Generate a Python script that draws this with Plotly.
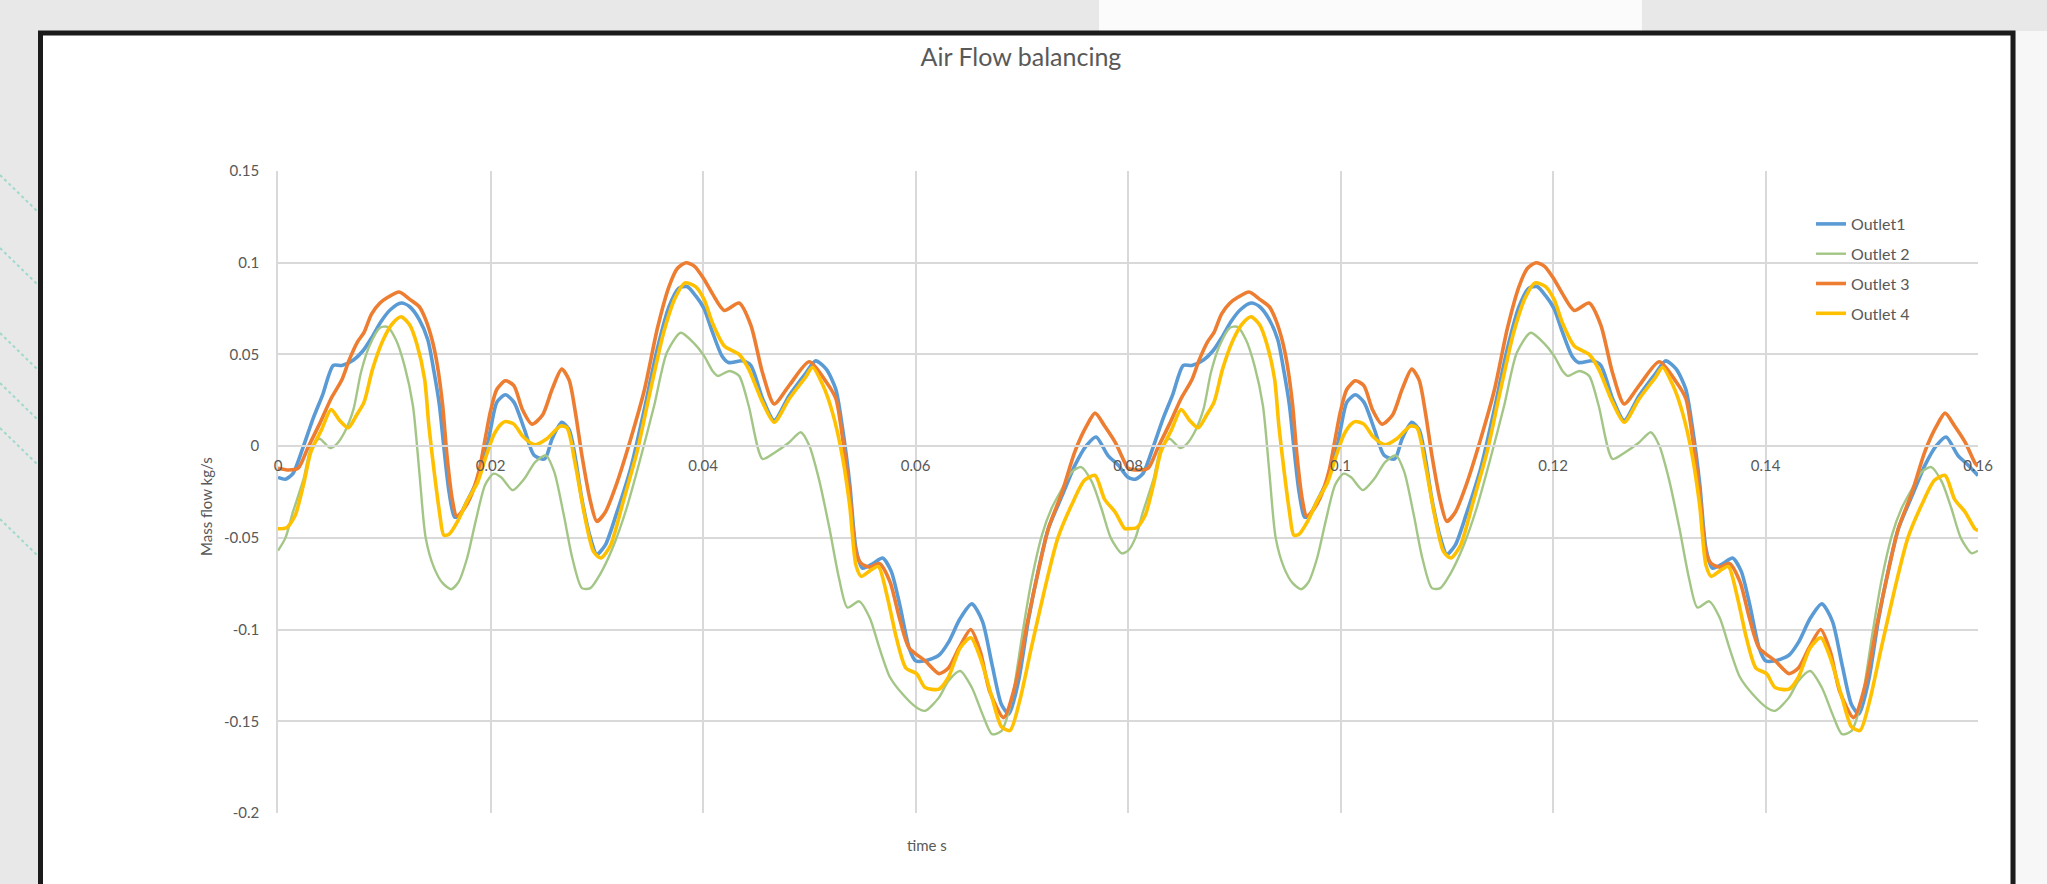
import plotly.graph_objects as go

# ---------------- data ----------------
outlet1_pts = [
    (0, -0.017), (0.0007, -0.018), (0.0014, -0.015), (0.0024, 0.0), (0.0033, 0.015), (0.0042, 0.028),
    (0.0052, 0.044), (0.006, 0.044), (0.0071, 0.047), (0.008, 0.052), (0.0088, 0.059), (0.0097, 0.068),
    (0.0106, 0.0745), (0.0116, 0.078), (0.0124, 0.076), (0.0133, 0.069), (0.0141, 0.058), (0.0147, 0.040),
    (0.0152, 0.022), (0.0156, 0.0), (0.0161, -0.025), (0.0166, -0.0385), (0.017, -0.0385), (0.0178, -0.030),
    (0.0188, -0.018), (0.0195, -0.005), (0.02, 0.009), (0.0206, 0.024), (0.0214, 0.028), (0.0222, 0.024),
    (0.0232, 0.009), (0.0241, -0.005), (0.0251, -0.007), (0.0258, 0.004), (0.0267, 0.013), (0.0274, 0.009),
    (0.028, -0.007), (0.0286, -0.029), (0.0294, -0.050), (0.03, -0.059), (0.0308, -0.054), (0.0319, -0.036),
    (0.0332, -0.012), (0.0344, 0.018), (0.0357, 0.053), (0.0368, 0.076), (0.0377, 0.086), (0.0385, 0.087),
    (0.0393, 0.082), (0.0401, 0.075), (0.0409, 0.062), (0.0418, 0.049), (0.0424, 0.0456), (0.0437, 0.0465),
    (0.0445, 0.044), (0.0456, 0.026), (0.0467, 0.014), (0.0481, 0.0275), (0.0497, 0.040), (0.0506, 0.0465),
    (0.0516, 0.042), (0.0525, 0.031), (0.0531, 0.011), (0.0538, -0.020), (0.0544, -0.056), (0.055, -0.0665),
    (0.056, -0.064), (0.0569, -0.061), (0.0577, -0.068), (0.0585, -0.086), (0.0594, -0.110), (0.06, -0.117),
    (0.0609, -0.117), (0.0622, -0.114), (0.0631, -0.107), (0.0642, -0.094), (0.0653, -0.086), (0.0663, -0.0955),
    (0.0672, -0.119), (0.0681, -0.141), (0.0688, -0.146), (0.0697, -0.128), (0.0706, -0.0955), (0.0716, -0.0665),
    (0.0725, -0.045), (0.0738, -0.027), (0.075, -0.0105), (0.0761, 0.0004), (0.077, 0.005), (0.0781, -0.005),
    (0.0791, -0.0105),
    (0.08, -0.017), (0.0807, -0.018), (0.0814, -0.015), (0.0824, 0.0), (0.0833, 0.015), (0.0842, 0.028),
    (0.0852, 0.044), (0.086, 0.044), (0.0871, 0.047), (0.088, 0.052), (0.0888, 0.059), (0.0897, 0.068),
    (0.0906, 0.0745), (0.0916, 0.078), (0.0924, 0.076), (0.0933, 0.069), (0.0941, 0.058), (0.0947, 0.040),
    (0.0952, 0.022), (0.0956, 0.0), (0.0961, -0.025), (0.0966, -0.0385), (0.097, -0.0385), (0.0978, -0.030),
    (0.0988, -0.018), (0.0995, -0.005), (0.1, 0.009), (0.1006, 0.024), (0.1014, 0.028), (0.1022, 0.024),
    (0.1032, 0.009), (0.1041, -0.005), (0.1051, -0.007), (0.1058, 0.004), (0.1067, 0.013), (0.1074, 0.009),
    (0.108, -0.007), (0.1086, -0.029), (0.1094, -0.050), (0.11, -0.059), (0.1108, -0.054), (0.1119, -0.036),
    (0.1132, -0.012), (0.1144, 0.018), (0.1157, 0.053), (0.1168, 0.076), (0.1177, 0.086), (0.1185, 0.087),
    (0.1193, 0.082), (0.1201, 0.075), (0.1209, 0.062), (0.1218, 0.049), (0.1224, 0.0456), (0.1237, 0.0465),
    (0.1245, 0.044), (0.1256, 0.026), (0.1267, 0.014), (0.1281, 0.0275), (0.1297, 0.040), (0.1306, 0.0465),
    (0.1316, 0.042), (0.1325, 0.031), (0.1331, 0.011), (0.1338, -0.020), (0.1344, -0.056), (0.135, -0.0665),
    (0.136, -0.064), (0.1369, -0.061), (0.1377, -0.068), (0.1385, -0.086), (0.1394, -0.110), (0.14, -0.117),
    (0.1409, -0.117), (0.1422, -0.114), (0.1431, -0.107), (0.1442, -0.094), (0.1453, -0.086), (0.1463, -0.0955),
    (0.1472, -0.119), (0.1481, -0.141), (0.1488, -0.146), (0.1497, -0.128), (0.1506, -0.0955), (0.1516, -0.0665),
    (0.1525, -0.045), (0.1538, -0.027), (0.155, -0.0105), (0.1561, 0.0004), (0.157, 0.005), (0.1581, -0.005),
    (0.1591, -0.0105), (0.16, -0.016),
]

outlet2_pts = [
    (0, -0.057), (0.0007, -0.050), (0.0014, -0.036), (0.0024, -0.018), (0.0031, -0.001), (0.0039, 0.004),
    (0.0049, -0.001), (0.0055, 0.001), (0.0063, 0.008), (0.0071, 0.020), (0.0078, 0.040), (0.0086, 0.0546),
    (0.0096, 0.0646), (0.0103, 0.065), (0.0111, 0.058), (0.0119, 0.044), (0.0127, 0.022), (0.0133, -0.014),
    (0.0139, -0.050), (0.0147, -0.0665), (0.0155, -0.0747), (0.0163, -0.078), (0.017, -0.074), (0.0178, -0.061),
    (0.0186, -0.041), (0.0195, -0.021), (0.0203, -0.015), (0.021, -0.017), (0.0221, -0.024), (0.0232, -0.0177),
    (0.0242, -0.0087), (0.0252, -0.005), (0.026, -0.014), (0.0269, -0.0376), (0.0277, -0.061), (0.0286, -0.0774),
    (0.0294, -0.0774), (0.0303, -0.070), (0.0316, -0.054), (0.0328, -0.034), (0.0341, -0.007), (0.0354, 0.022),
    (0.0366, 0.051), (0.0379, 0.0618), (0.0391, 0.0564), (0.0401, 0.0492), (0.0409, 0.041), (0.0414, 0.0383),
    (0.0425, 0.041), (0.0434, 0.0383), (0.0443, 0.022), (0.0456, -0.007), (0.0468, -0.0033), (0.0481, 0.002),
    (0.0492, 0.0076), (0.05, 0.0004), (0.0509, -0.0177), (0.0519, -0.0448), (0.0528, -0.072), (0.0536, -0.088),
    (0.0547, -0.0846), (0.0557, -0.0937), (0.0566, -0.110), (0.0576, -0.126), (0.0588, -0.1353), (0.0601, -0.1425),
    (0.0609, -0.1443), (0.0622, -0.1371), (0.0631, -0.128), (0.0642, -0.1226), (0.0653, -0.1316), (0.0663, -0.1461),
    (0.0672, -0.157), (0.0681, -0.1552), (0.0691, -0.1371), (0.07, -0.1045), (0.0709, -0.0738), (0.0719, -0.0485),
    (0.0728, -0.034), (0.0738, -0.0231), (0.0747, -0.0141), (0.0756, -0.0114), (0.0766, -0.0195), (0.0775, -0.034),
    (0.0784, -0.0503), (0.0794, -0.0584),
    (0.08, -0.057), (0.0807, -0.050), (0.0814, -0.036), (0.0824, -0.018), (0.0831, -0.001), (0.0839, 0.004),
    (0.0849, -0.001), (0.0855, 0.001), (0.0863, 0.008), (0.0871, 0.020), (0.0878, 0.040), (0.0886, 0.0546),
    (0.0896, 0.0646), (0.0903, 0.065), (0.0911, 0.058), (0.0919, 0.044), (0.0927, 0.022), (0.0933, -0.014),
    (0.0939, -0.050), (0.0947, -0.0665), (0.0955, -0.0747), (0.0963, -0.078), (0.097, -0.074), (0.0978, -0.061),
    (0.0986, -0.041), (0.0995, -0.021), (0.1003, -0.015), (0.101, -0.017), (0.1021, -0.024), (0.1032, -0.0177),
    (0.1042, -0.0087), (0.1052, -0.005), (0.106, -0.014), (0.1069, -0.0376), (0.1077, -0.061), (0.1086, -0.0774),
    (0.1094, -0.0774), (0.1103, -0.070), (0.1116, -0.054), (0.1128, -0.034), (0.1141, -0.007), (0.1154, 0.022),
    (0.1166, 0.051), (0.1179, 0.0618), (0.1191, 0.0564), (0.1201, 0.0492), (0.1209, 0.041), (0.1214, 0.0383),
    (0.1225, 0.041), (0.1234, 0.0383), (0.1243, 0.022), (0.1256, -0.007), (0.1268, -0.0033), (0.1281, 0.002),
    (0.1292, 0.0076), (0.13, 0.0004), (0.1309, -0.0177), (0.1319, -0.0448), (0.1328, -0.072), (0.1336, -0.088),
    (0.1347, -0.0846), (0.1357, -0.0937), (0.1366, -0.110), (0.1376, -0.126), (0.1388, -0.1353), (0.1401, -0.1425),
    (0.1409, -0.1443), (0.1422, -0.1371), (0.1431, -0.128), (0.1442, -0.1226), (0.1453, -0.1316), (0.1463, -0.1461),
    (0.1472, -0.157), (0.1481, -0.1552), (0.1491, -0.1371), (0.15, -0.1045), (0.1509, -0.0738), (0.1519, -0.0485),
    (0.1528, -0.034), (0.1538, -0.0231), (0.1547, -0.0141), (0.1556, -0.0114), (0.1566, -0.0195), (0.1575, -0.034),
    (0.1584, -0.0503), (0.1594, -0.0584), (0.16, -0.057),
]

outlet3_pts = [
    (0, -0.012), (0.001, -0.013), (0.0019, -0.012), (0.0028, -0.001), (0.0039, 0.012), (0.005, 0.026),
    (0.006, 0.036), (0.0067, 0.047), (0.0075, 0.057), (0.0081, 0.062), (0.0088, 0.072), (0.0096, 0.078),
    (0.0103, 0.081), (0.0114, 0.084), (0.0124, 0.080), (0.0133, 0.076), (0.0139, 0.069), (0.0145, 0.058),
    (0.015, 0.044), (0.0155, 0.022), (0.0159, -0.005), (0.0164, -0.029), (0.0168, -0.038), (0.0174, -0.035),
    (0.0181, -0.028), (0.0189, -0.014), (0.0195, 0.004), (0.02, 0.019), (0.0206, 0.031), (0.0214, 0.0356),
    (0.0222, 0.033), (0.023, 0.020), (0.0239, 0.012), (0.0249, 0.017), (0.0258, 0.031), (0.0267, 0.042),
    (0.0274, 0.036), (0.028, 0.018), (0.0286, -0.005), (0.0294, -0.030), (0.03, -0.041), (0.0308, -0.036),
    (0.0319, -0.020), (0.0332, 0.004), (0.0345, 0.031), (0.0357, 0.064), (0.0368, 0.087), (0.0376, 0.097),
    (0.0384, 0.100), (0.0392, 0.098), (0.0401, 0.091), (0.0409, 0.083), (0.042, 0.074), (0.0434, 0.078),
    (0.0445, 0.066), (0.0456, 0.040), (0.0467, 0.023), (0.0481, 0.033), (0.05, 0.046), (0.0516, 0.035),
    (0.0525, 0.026), (0.0531, 0.006), (0.0538, -0.025), (0.0544, -0.058), (0.0549, -0.064), (0.0557, -0.066),
    (0.0566, -0.064), (0.0576, -0.074), (0.0585, -0.094), (0.0594, -0.110), (0.0609, -0.117), (0.0622, -0.124),
    (0.0631, -0.121), (0.0641, -0.110), (0.0652, -0.100), (0.0661, -0.112), (0.067, -0.134), (0.0683, -0.148),
    (0.0694, -0.130), (0.0705, -0.097), (0.0716, -0.067), (0.0725, -0.045), (0.0738, -0.025), (0.075, -0.003),
    (0.0761, 0.011), (0.0769, 0.018), (0.0778, 0.011), (0.0788, 0.002), (0.0797, -0.009),
    (0.08, -0.012), (0.081, -0.013), (0.0819, -0.012), (0.0828, -0.001), (0.0839, 0.012), (0.085, 0.026),
    (0.086, 0.036), (0.0867, 0.047), (0.0875, 0.057), (0.0881, 0.062), (0.0888, 0.072), (0.0896, 0.078),
    (0.0903, 0.081), (0.0914, 0.084), (0.0924, 0.080), (0.0933, 0.076), (0.0939, 0.069), (0.0945, 0.058),
    (0.095, 0.044), (0.0955, 0.022), (0.0959, -0.005), (0.0964, -0.029), (0.0968, -0.038), (0.0974, -0.035),
    (0.0981, -0.028), (0.0989, -0.014), (0.0995, 0.004), (0.1, 0.019), (0.1006, 0.031), (0.1014, 0.0356),
    (0.1022, 0.033), (0.103, 0.020), (0.1039, 0.012), (0.1049, 0.017), (0.1058, 0.031), (0.1067, 0.042),
    (0.1074, 0.036), (0.108, 0.018), (0.1086, -0.005), (0.1094, -0.030), (0.11, -0.041), (0.1108, -0.036),
    (0.1119, -0.020), (0.1132, 0.004), (0.1145, 0.031), (0.1157, 0.064), (0.1168, 0.087), (0.1176, 0.097),
    (0.1184, 0.100), (0.1192, 0.098), (0.1201, 0.091), (0.1209, 0.083), (0.122, 0.074), (0.1234, 0.078),
    (0.1245, 0.066), (0.1256, 0.040), (0.1267, 0.023), (0.1281, 0.033), (0.13, 0.046), (0.1316, 0.035),
    (0.1325, 0.026), (0.1331, 0.006), (0.1338, -0.025), (0.1344, -0.058), (0.1349, -0.064), (0.1357, -0.066),
    (0.1366, -0.064), (0.1376, -0.074), (0.1385, -0.094), (0.1394, -0.110), (0.1409, -0.117), (0.1422, -0.124),
    (0.1431, -0.121), (0.1441, -0.110), (0.1452, -0.100), (0.1461, -0.112), (0.147, -0.134), (0.1483, -0.148),
    (0.1494, -0.130), (0.1505, -0.097), (0.1516, -0.067), (0.1525, -0.045), (0.1538, -0.025), (0.155, -0.003),
    (0.1561, 0.011), (0.1569, 0.018), (0.1578, 0.011), (0.1588, 0.002), (0.1597, -0.009), (0.16, -0.011),
]

outlet4_pts = [
    (0, -0.045), (0.0008, -0.0445), (0.0016, -0.038), (0.0024, -0.021), (0.0031, -0.003), (0.0041, 0.009),
    (0.005, 0.020), (0.0058, 0.014), (0.0066, 0.010), (0.0074, 0.017), (0.0081, 0.024), (0.0089, 0.042),
    (0.0099, 0.058), (0.0108, 0.067), (0.0116, 0.0705), (0.0124, 0.066), (0.0131, 0.055), (0.0138, 0.0365),
    (0.0142, 0.011), (0.0147, -0.014), (0.0152, -0.036), (0.0156, -0.0485), (0.0161, -0.048), (0.0169, -0.041),
    (0.0178, -0.030), (0.0188, -0.0195), (0.0195, -0.007), (0.0203, 0.006), (0.021, 0.012), (0.0214, 0.0134),
    (0.0222, 0.012), (0.0231, 0.005), (0.0242, 0.0007), (0.0253, 0.004), (0.0266, 0.011), (0.0272, 0.010),
    (0.028, -0.0105), (0.0288, -0.036), (0.0297, -0.0575), (0.0304, -0.061), (0.0313, -0.054), (0.0325, -0.030),
    (0.0338, -0.003), (0.035, 0.029), (0.0363, 0.062), (0.0374, 0.081), (0.0383, 0.089), (0.0393, 0.087),
    (0.0401, 0.080), (0.0409, 0.067), (0.042, 0.0546), (0.0434, 0.050), (0.0443, 0.042), (0.0456, 0.024),
    (0.0467, 0.013), (0.0481, 0.0257), (0.0497, 0.038), (0.0503, 0.043), (0.0513, 0.033), (0.0522, 0.018),
    (0.0531, -0.005), (0.0538, -0.032), (0.0544, -0.065), (0.0549, -0.071), (0.0557, -0.068), (0.0565, -0.0656),
    (0.0573, -0.081), (0.0582, -0.1045), (0.0591, -0.121), (0.0601, -0.124), (0.0609, -0.1316), (0.0622, -0.1325),
    (0.0631, -0.126), (0.0642, -0.110), (0.0652, -0.1045), (0.0661, -0.1154), (0.0672, -0.137), (0.0681, -0.153),
    (0.0689, -0.155), (0.0698, -0.139), (0.0709, -0.110), (0.0722, -0.077), (0.0734, -0.050), (0.0747, -0.032),
    (0.0759, -0.0186), (0.0769, -0.016), (0.0778, -0.029), (0.0788, -0.036), (0.0797, -0.045),
    (0.08, -0.045), (0.0808, -0.0445), (0.0816, -0.038), (0.0824, -0.021), (0.0831, -0.003), (0.0841, 0.009),
    (0.085, 0.020), (0.0858, 0.014), (0.0866, 0.010), (0.0874, 0.017), (0.0881, 0.024), (0.0889, 0.042),
    (0.0899, 0.058), (0.0908, 0.067), (0.0916, 0.0705), (0.0924, 0.066), (0.0931, 0.055), (0.0938, 0.0365),
    (0.0942, 0.011), (0.0947, -0.014), (0.0952, -0.036), (0.0956, -0.0485), (0.0961, -0.048), (0.0969, -0.041),
    (0.0978, -0.030), (0.0988, -0.0195), (0.0995, -0.007), (0.1003, 0.006), (0.101, 0.012), (0.1014, 0.0134),
    (0.1022, 0.012), (0.1031, 0.005), (0.1042, 0.0007), (0.1053, 0.004), (0.1066, 0.011), (0.1072, 0.010),
    (0.108, -0.0105), (0.1088, -0.036), (0.1097, -0.0575), (0.1104, -0.061), (0.1113, -0.054), (0.1125, -0.030),
    (0.1138, -0.003), (0.115, 0.029), (0.1163, 0.062), (0.1174, 0.081), (0.1183, 0.089), (0.1193, 0.087),
    (0.1201, 0.080), (0.1209, 0.067), (0.122, 0.0546), (0.1234, 0.050), (0.1243, 0.042), (0.1256, 0.024),
    (0.1267, 0.013), (0.1281, 0.0257), (0.1297, 0.038), (0.1303, 0.043), (0.1313, 0.033), (0.1322, 0.018),
    (0.1331, -0.005), (0.1338, -0.032), (0.1344, -0.065), (0.1349, -0.071), (0.1357, -0.068), (0.1365, -0.0656),
    (0.1373, -0.081), (0.1382, -0.1045), (0.1391, -0.121), (0.1401, -0.124), (0.1409, -0.1316), (0.1422, -0.1325),
    (0.1431, -0.126), (0.1442, -0.110), (0.1452, -0.1045), (0.1461, -0.1154), (0.1472, -0.137), (0.1481, -0.153),
    (0.1489, -0.155), (0.1498, -0.139), (0.1509, -0.110), (0.1522, -0.077), (0.1534, -0.050), (0.1547, -0.032),
    (0.1559, -0.0186), (0.1569, -0.016), (0.1578, -0.029), (0.1588, -0.036), (0.1597, -0.045), (0.16, -0.046),
]

series_names = ["Outlet1", "Outlet 2", "Outlet 3", "Outlet 4"]
series_colors = ["#5b9bd5", "#a3c686", "#ed7d31", "#ffc000"]
series_widths = [3.6, 2.4, 3.6, 3.6]

x_tick_vals = [0, 0.02, 0.04, 0.06, 0.08, 0.1, 0.12, 0.14, 0.16]
x_tick_text = ["0", "0.02", "0.04", "0.06", "0.08", "0.1", "0.12", "0.14", "0.16"]
y_tick_vals = [0.15, 0.1, 0.05, 0, -0.05, -0.1, -0.15, -0.2]
y_tick_text = ["0.15", "0.1", "0.05", "0", "-0.05", "-0.1", "-0.15", "-0.2"]

# ---------------- layout geometry (pixels) ----------------
W, H = 2047, 884
L, R, T, B = 278, 69, 171, 71
PW, PH = W - L - R, H - T - B


def px_x(p):
    return (p - L) / PW


def px_y(p):
    return (H - B - p) / PH


FONT = "Lato, Carlito, Calibri, sans-serif"
GRAY_TXT = "#595959"
GRID = "#d9d9d9"

fig = go.Figure()
for i, pts in enumerate([outlet1_pts, outlet2_pts, outlet3_pts, outlet4_pts]):
    xs = [p[0] for p in pts]
    ys = [p[1] for p in pts]
    fig.add_trace(go.Scatter(
        x=xs, y=ys, mode="lines", name=series_names[i], legendgroup=series_names[i],
        line=dict(color=series_colors[i], width=series_widths[i], shape="spline", smoothing=0.7),
    ))

shapes = [
    # white patch in the top strip
    dict(type="rect", xref="paper", yref="paper", layer="below",
         x0=px_x(1099), x1=px_x(1642), y0=px_y(31), y1=px_y(-5),
         line=dict(width=0), fillcolor="#fbfbfb"),
    # chart frame (white card with thick black border)
    dict(type="rect", xref="paper", yref="paper", layer="below",
         x0=px_x(40.5), x1=px_x(2013), y0=px_y(905), y1=px_y(33),
         line=dict(color="#1b1b1b", width=5), fillcolor="white"),
    # light area to the right of frame
    dict(type="rect", xref="paper", yref="paper", layer="below",
         x0=px_x(2016), x1=px_x(2060), y0=px_y(900), y1=px_y(31),
         line=dict(width=0), fillcolor="#f7f7f7"),
]
# faint teal page-background strokes visible in the left margin of the photo
for y_start in [175, 248, 333, 383, 428, 519]:
    shapes.append(dict(type="line", xref="paper", yref="paper", layer="below",
                       x0=px_x(0), x1=px_x(37), y0=px_y(y_start), y1=px_y(y_start + 36),
                       line=dict(color="#9fd8cc", width=2, dash="dot")))

annotations = [
    dict(text="Mass flow kg/s", xref="paper", yref="paper", x=px_x(206), y=px_y(507),
         textangle=-90, showarrow=False, font=dict(family=FONT, size=15, color=GRAY_TXT),
         xanchor="center", yanchor="middle"),
    dict(text="time s", xref="paper", yref="paper", x=px_x(927), y=px_y(845),
         showarrow=False, font=dict(family=FONT, size=15, color=GRAY_TXT),
         xanchor="center", yanchor="middle"),
]

fig.update_layout(
    width=W, height=H, autosize=False,
    margin=dict(l=L, r=R, t=T, b=B, pad=0),
    paper_bgcolor="#e8e8e8", plot_bgcolor="rgba(0,0,0,0)",
    font=dict(family=FONT, color=GRAY_TXT),
    title=dict(text="Air Flow balancing", x=1021 / W, xref="container", xanchor="center",
               y=1 - 57 / H, yref="container", yanchor="middle",
               font=dict(family=FONT, size=25, color=GRAY_TXT)),
    xaxis=dict(range=[0, 0.16], tickvals=x_tick_vals, ticktext=x_tick_text,
               anchor="free", position=0.2 / 0.35,
               showgrid=True, gridcolor=GRID, gridwidth=1.5,
               showline=True, linecolor=GRID, linewidth=1.5,
               zeroline=False, ticks="outside", ticklen=6, tickcolor="rgba(0,0,0,0)",
               tickfont=dict(family=FONT, size=15, color=GRAY_TXT)),
    yaxis=dict(range=[-0.2, 0.15], tickvals=y_tick_vals, ticktext=y_tick_text,
               showgrid=True, gridcolor=GRID, gridwidth=1.5,
               showline=True, linecolor=GRID, linewidth=1.5,
               zeroline=True, zerolinecolor=GRID, zerolinewidth=1.5,
               ticks="outside", ticklen=14, tickcolor="rgba(0,0,0,0)",
               tickfont=dict(family=FONT, size=15, color=GRAY_TXT)),
    legend=dict(x=px_x(1811), y=px_y(207), xanchor="left", yanchor="top",
                bgcolor="rgba(0,0,0,0)", borderwidth=0, tracegroupgap=6,
                font=dict(family=FONT, size=16, color=GRAY_TXT)),
    shapes=shapes,
    annotations=annotations,
)

fig.write_html("out.html", config={"displayModeBar": False},
               post_script="document.body.style.margin='0';document.body.style.overflow='hidden';")
